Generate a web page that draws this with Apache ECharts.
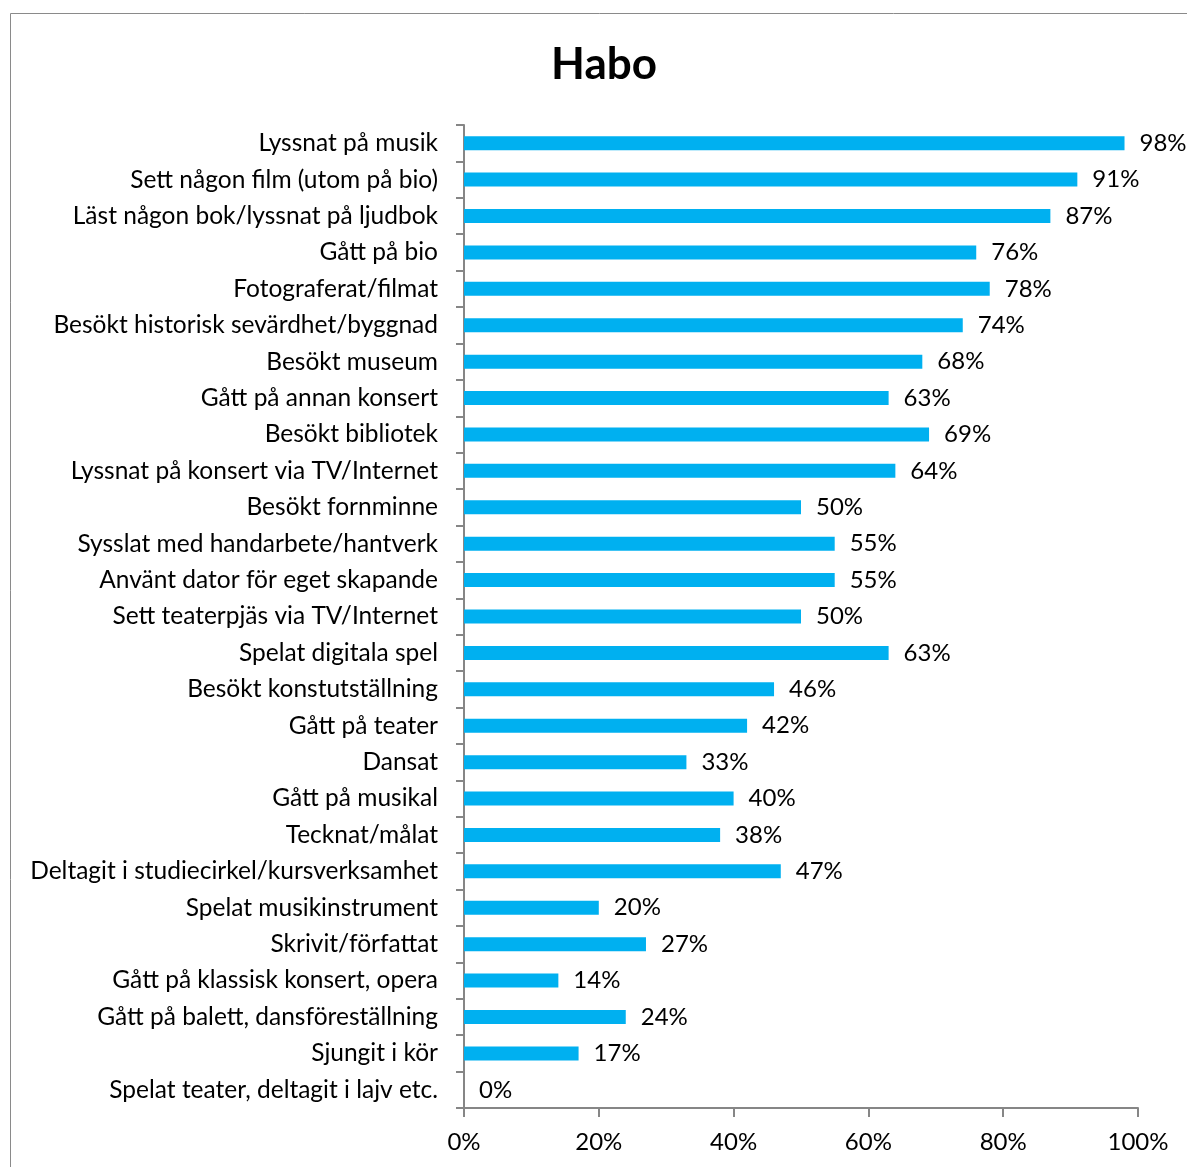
<!DOCTYPE html>
<html>
<head>
<meta charset="utf-8">
<script src="https://cdn.jsdelivr.net/npm/echarts@6/dist/echarts.min.js"></script>
<style>
  html, body { margin: 0; padding: 0; background: #fff; }
  #chart { width: 1187px; height: 1167px; }
</style>
</head>
<body>
<div id="chart"></div>
<script>
// Aktiviteter (uppifrån och ned)
const categories = [
  'Lyssnat på musik',
  'Sett någon film (utom på bio)',
  'Läst någon bok/lyssnat på ljudbok',
  'Gått på bio',
  'Fotograferat/filmat',
  'Besökt historisk sevärdhet/byggnad',
  'Besökt museum',
  'Gått på annan konsert',
  'Besökt bibliotek',
  'Lyssnat på konsert via TV/Internet',
  'Besökt fornminne',
  'Sysslat med handarbete/hantverk',
  'Använt dator för eget skapande',
  'Sett teaterpjäs via TV/Internet',
  'Spelat digitala spel',
  'Besökt konstutställning',
  'Gått på teater',
  'Dansat',
  'Gått på musikal',
  'Tecknat/målat',
  'Deltagit i studiecirkel/kursverksamhet',
  'Spelat musikinstrument',
  'Skrivit/författat',
  'Gått på klassisk konsert, opera',
  'Gått på balett, dansföreställning',
  'Sjungit i kör',
  'Spelat teater, deltagit i lajv etc.'
];

// Andel i procent
const values = [98, 91, 87, 76, 78, 74, 68, 63, 69, 64, 50, 55, 55, 50, 63, 46, 42, 33, 40, 38, 47, 20, 27, 14, 24, 17, 0];

const xTicks = [0, 20, 40, 60, 80, 100];

const font = 'Lato, "Open Sans", sans-serif';
const axisColor = '#868686';

const chart = echarts.init(document.getElementById('chart'));

chart.setOption({
  animation: false,
  textStyle: { fontFamily: font },
  title: {
    text: 'Habo',
    left: 599,
    top: 38,
    textAlign: 'center',
    textStyle: { fontSize: 44, fontWeight: 'bold', color: '#000', fontFamily: font }
  },
  graphic: [{
    type: 'rect',
    shape: { x: 10.5, y: 13.5, width: 1300, height: 1300 },
    style: { fill: 'none', stroke: '#8a8a8a', lineWidth: 1 },
    silent: true
  }],
  grid: { left: 464, right: 49, top: 125, bottom: 59 },
  xAxis: {
    type: 'value',
    min: xTicks[0],
    max: xTicks[xTicks.length - 1],
    interval: 20,
    splitLine: { show: false },
    axisLine: { show: true, lineStyle: { color: axisColor, width: 2 } },
    axisTick: { show: true, length: 9, lineStyle: { color: axisColor, width: 2 } },
    axisLabel: {
      formatter: '{value}%',
      color: '#000',
      fontSize: 24,
      margin: 22,
      fontFamily: font
    }
  },
  yAxis: {
    type: 'category',
    data: categories,
    inverse: true,
    axisLine: { show: true, lineStyle: { color: axisColor, width: 2 } },
    axisTick: { show: true, length: 8, lineStyle: { color: axisColor, width: 2 } },
    axisLabel: {
      color: '#000',
      fontSize: 24.5,
      margin: 26,
      fontFamily: font
    }
  },
  series: [{
    type: 'bar',
    data: values,
    barWidth: 14,
    itemStyle: { color: '#00B0F0' },
    label: {
      show: true,
      position: 'right',
      distance: 15,
      formatter: '{c}%',
      color: '#000',
      fontSize: 24,
      fontFamily: font
    }
  }]
});
</script>
</body>
</html>
